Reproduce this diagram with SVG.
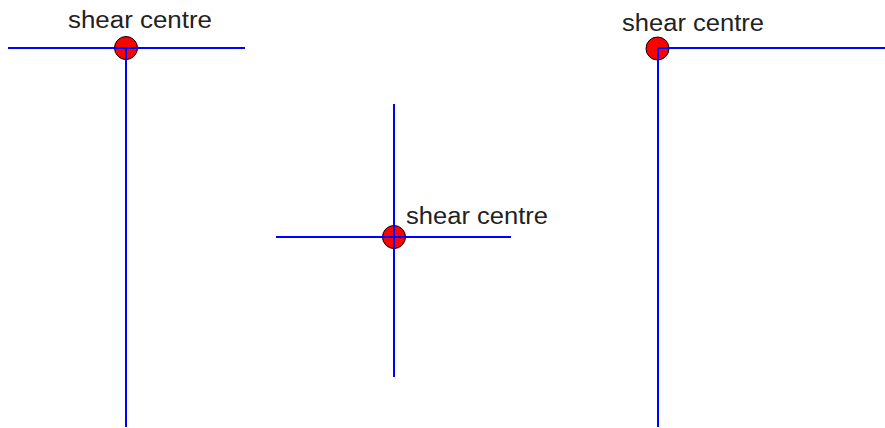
<svg xmlns="http://www.w3.org/2000/svg" width="885" height="428" viewBox="0 0 885 428">
<style>
.sc{fill:#ff0000;stroke:#000000;stroke-width:1}
.ln{stroke:#0000ff;stroke-width:2;fill:none}
.lbl{font-family:"Liberation Sans",Arial,sans-serif;font-size:23px;fill:#222222}
</style>
<rect width="885" height="428" fill="#ffffff"/>
<g id="node-left">
<circle class="sc" cx="126" cy="48" r="11.5"/>
<text class="lbl" x="68" y="28" textLength="144" lengthAdjust="spacingAndGlyphs">shear centre</text>
</g>
<g id="node-middle">
<circle class="sc" cx="394" cy="237" r="11.5"/>
<text class="lbl" x="406" y="224" textLength="142" lengthAdjust="spacingAndGlyphs">shear centre</text>
</g>
<g id="node-right">
<circle class="sc" cx="657.5" cy="48.5" r="11.5"/>
<text class="lbl" x="622" y="31" textLength="142" lengthAdjust="spacingAndGlyphs">shear centre</text>
</g>
<g id="connectors">
<line class="ln" x1="8" y1="48" x2="245" y2="48"/>
<line class="ln" x1="126" y1="48" x2="126" y2="427"/>
<line class="ln" x1="276" y1="237" x2="511" y2="237"/>
<line class="ln" x1="394" y1="104" x2="394" y2="377"/>
<line class="ln" x1="658" y1="48" x2="885" y2="48"/>
<line class="ln" x1="658" y1="48" x2="658" y2="427"/>
</g>
</svg>
